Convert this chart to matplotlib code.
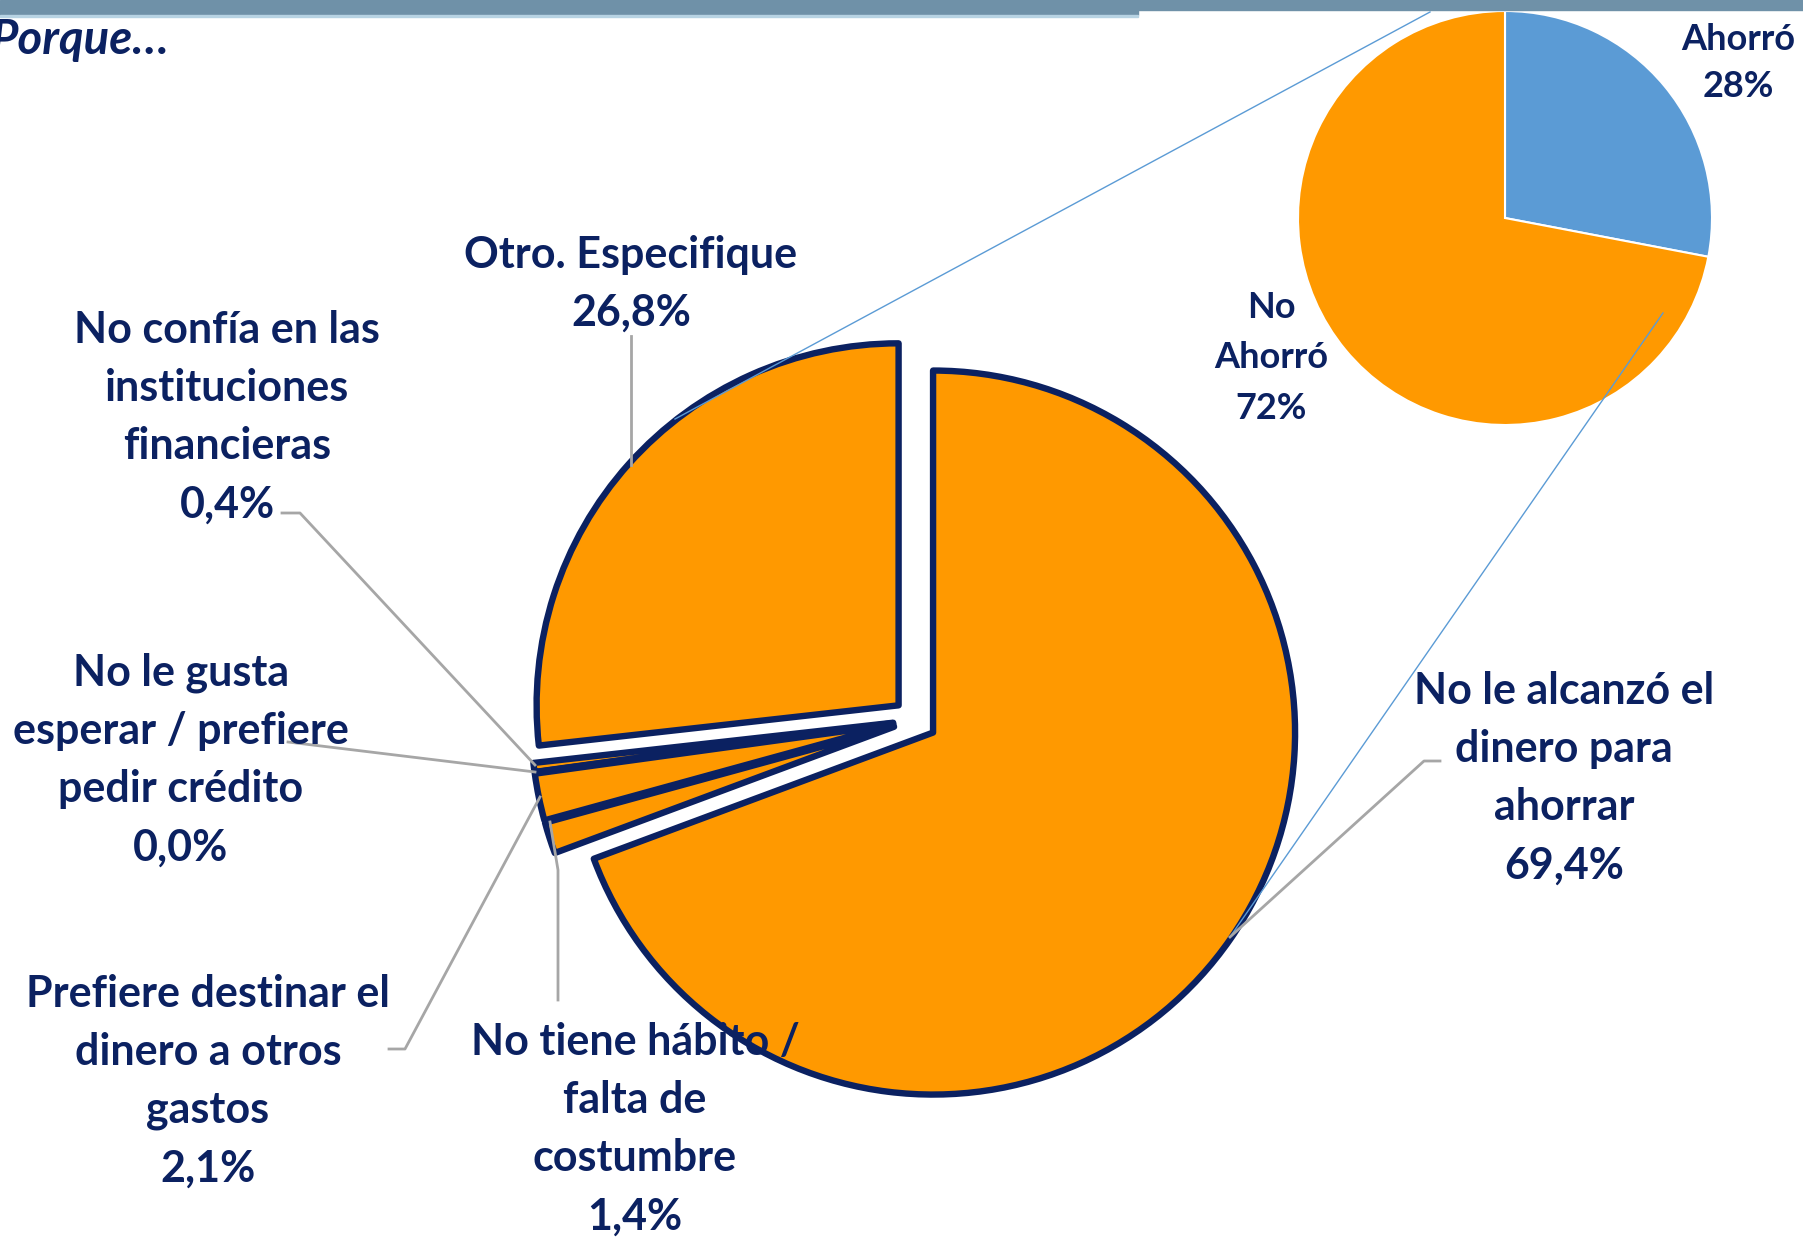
import matplotlib
matplotlib.use("Agg")
import matplotlib.pyplot as plt

plt.rcParams['font.family'] = ['Lato', 'DejaVu Sans']

# data
razones = ["Otro. Especifique", "No confía en las\ninstituciones\nfinancieras",
           "No le gusta\nesperar / prefiere\npedir crédito",
           "Prefiere destinar el\ndinero a otros\ngastos",
           "No tiene hábito /\nfalta de\ncostumbre",
           "No le alcanzó el\ndinero para\nahorrar"]
porcentajes = [26.8, 0.4, 0.0, 2.1, 1.4, 69.4]
etiquetas_pct = ["26,8%", "0,4%", "0,0%", "2,1%", "1,4%", "69,4%"]

ahorro_labels = ["Ahorró", "No\nAhorró"]
ahorro_vals = [28, 72]
ahorro_pct = ["28%", "72%"]

W, H = 1803, 1237
navy = '#0b2161'
orange = '#ff9900'
blue = '#5b9bd5'
grey = '#a6a6a6'

fig = plt.figure(figsize=(W / 100, H / 100), dpi=100)
ax = fig.add_axes([0, 0, 1, 1])

def Y(y):
    # pixel row (from top) -> data y
    return H - y

# big pie (explode is in data units here)
wedges, _ = ax.pie(porcentajes, startangle=90, counterclock=True,
                   colors=[orange] * len(porcentajes),
                   explode=[22] * len(porcentajes),
                   center=(915, Y(720)), radius=362, frame=True,
                   wedgeprops=dict(edgecolor=navy, linewidth=4.6, joinstyle='round'))

# small pie
ax.pie(ahorro_vals, startangle=90, counterclock=False, colors=[blue, orange],
       center=(1505, Y(218)), radius=207, frame=True,
       wedgeprops=dict(edgecolor='white', linewidth=1.5))

# connector lines between pies
ax.plot([1430, 675], [Y(12), Y(419)], color=blue, lw=1.0, zorder=3)
ax.plot([1663, 1230], [Y(313), Y(937)], color=blue, lw=1.0, zorder=3)

# leader lines
leaders = [
    ([631, 631], [336, 465]),
    ([282, 300, 535], [513, 513, 765]),
    ([288, 535], [742, 772]),
    ([389, 405, 540], [1049, 1049, 797]),
    ([550, 558, 558], [822, 870, 1000]),
    ([1440, 1424, 1230], [761, 761, 937]),
]
for xs, ys in leaders:
    ax.plot(xs, [Y(v) for v in ys], color=grey, lw=2.0, zorder=3)

# labels
label_pos = [(631, 284), (227, 417), (181, 760), (208, 1081), (635, 1129), (1564, 778)]
for txt, pct, (x, y) in zip(razones, etiquetas_pct, label_pos):
    ax.text(x, Y(y), txt + "\n" + pct, ha='center', va='center', fontsize=31,
            fontweight='bold', color=navy, linespacing=1.55, zorder=4)

ax.text(1738, Y(63), ahorro_labels[0] + "\n" + ahorro_pct[0], ha='center', va='center',
        fontsize=26, fontweight='bold', color=navy, linespacing=1.55)
ax.text(1271, Y(358), ahorro_labels[1] + "\n" + ahorro_pct[1], ha='center', va='center',
        fontsize=26, fontweight='bold', color=navy, linespacing=1.65)

# header band
ax.add_patch(plt.Rectangle((0, Y(15)), 1138, 15, color='#6f91a8', zorder=5))
ax.add_patch(plt.Rectangle((1138, Y(10)), W - 1138, 10, color='#6f91a8', zorder=5))
ax.add_patch(plt.Rectangle((0, Y(17)), 1138, 2, color='#b7d3e3', zorder=5))
ax.text(-10, Y(40), "Porque…", ha='left', va='center', fontsize=34,
        fontweight='bold', style='italic', color=navy)

ax.set_xlim(0, W)
ax.set_ylim(0, H)
ax.set_aspect('auto')
ax.axis('off')

fig.savefig("out.png", dpi=100)
